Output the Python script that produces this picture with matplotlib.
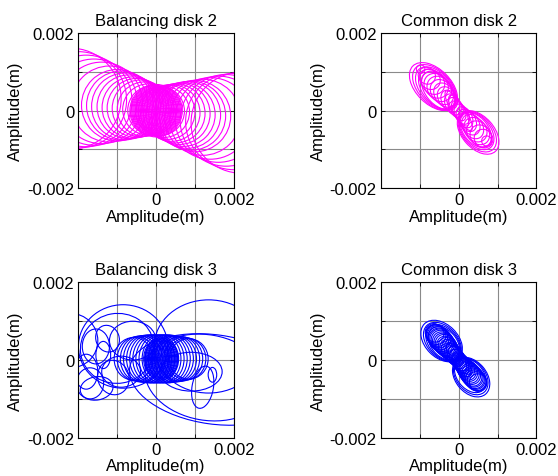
import matplotlib
matplotlib.use("Agg")
import matplotlib.pyplot as plt
from matplotlib.patches import Ellipse

plt.rcParams["font.family"] = ["Liberation Sans", "DejaVu Sans"]
plt.rcParams["font.size"] = 12

MM = 1e-3  # all orbit parameters below are in mm, plotted in m

# ---- Balancing disk 2: near-circular orbits sliding along x, dense core at origin
bd2_core_r = [0.025, 0.05, 0.075, 0.1, 0.125, 0.15, 0.175, 0.2, 0.225, 0.25,
              0.275, 0.3, 0.325, 0.35, 0.375, 0.4, 0.425, 0.45, 0.475, 0.5,
              0.525, 0.55, 0.575, 0.6, 0.625, 0.65, 0.675]
bd2_cx = [-2.2, -2.0, -1.8, -1.6, -1.4, -1.2,
          -1.0, -0.9, -0.8, -0.7, -0.6, -0.5, -0.4, -0.3, -0.2, -0.1,
          0.1, 0.2, 0.3, 0.4, 0.5, 0.6, 0.7, 0.8, 0.9, 1.0,
          1.2, 1.4, 1.6, 1.8, 2.0, 2.2]
bd2_cy = [0.31, 0.28, 0.25, 0.22, 0.20, 0.17,
          0.14, 0.13, 0.11, 0.10, 0.08, 0.07, 0.06, 0.04, 0.03, 0.01,
          -0.01, -0.03, -0.04, -0.06, -0.07, -0.08, -0.10, -0.11, -0.13, -0.14,
          -0.17, -0.20, -0.22, -0.25, -0.28, -0.31]
bd2_r = [1.30, 1.24, 1.18, 1.11, 1.05, 0.98,
         0.92, 0.89, 0.86, 0.82, 0.79, 0.76, 0.73, 0.70, 0.66, 0.63,
         0.63, 0.66, 0.70, 0.73, 0.76, 0.79, 0.82, 0.86, 0.89, 0.92,
         0.98, 1.05, 1.11, 1.18, 1.24, 1.30]

# ---- Common disk 2: tilted elliptical orbits along the diagonal
cd2_cx = [-0.65, -0.62, -0.59, -0.56, -0.53, -0.98,
          -0.82, -0.74, -0.66, -0.58, -0.50, -0.43, -0.36, -0.29, -0.22, -0.15, -0.08,
          0.00, 0.00, 0.00,
          0.08, 0.15, 0.22, 0.29, 0.36, 0.43, 0.50, 0.57, 0.64,
          0.72, 0.50, 0.48, 0.46, 0.44]
cd2_cy = [0.62, 0.60, 0.58, 0.55, 0.52, 1.07,
          0.90, 0.81, 0.72, 0.64, 0.56, 0.48, 0.40, 0.32, 0.24, 0.16, 0.08,
          0.00, 0.00, 0.00,
          -0.09, -0.17, -0.25, -0.33, -0.41, -0.49, -0.57, -0.65, -0.72,
          -0.78, -0.56, -0.54, -0.52, -0.50]
cd2_w = [1.50, 1.40, 1.30, 1.20, 1.10, 0.22,
         0.46, 0.56, 0.64, 0.68, 0.70, 0.70, 0.68, 0.64, 0.62, 0.58, 0.56,
         0.56, 0.90, 1.20,
         0.56, 0.58, 0.62, 0.64, 0.68, 0.68, 0.66, 0.60, 0.50,
         0.26, 1.32, 1.22, 1.12, 1.02]
cd2_h = [0.90, 0.84, 0.78, 0.72, 0.66, 0.22,
         0.42, 0.50, 0.56, 0.58, 0.58, 0.54, 0.50, 0.46, 0.42, 0.38, 0.34,
         0.30, 0.30, 0.32,
         0.34, 0.38, 0.42, 0.46, 0.50, 0.54, 0.54, 0.52, 0.46,
         0.26, 0.82, 0.76, 0.70, 0.64]
cd2_ang = [-45, -47, -48, -50, -52, 0,
           -40, -45, -45, -48, -50, -52, -55, -57, -60, -62, -62,
           -62, -60, -57,
           -62, -62, -60, -57, -55, -52, -50, -48, -45,
           0, -48, -49, -50, -52]

# ---- Balancing disk 3: wandering transient loops around a dense core
bd3_core_cx = [-0.58, -0.50, -0.42, -0.34, -0.26, -0.18, -0.10, -0.02, 0.06, 0.14,
               0.22, 0.30, 0.38, 0.46, 0.54, 0.62, 0.70, 0.78, 0.84]
bd3_core_w = [1.0] * 19
bd3_core_h = [1.10, 1.14, 1.18, 1.20, 1.22, 1.24, 1.24, 1.24, 1.24, 1.24,
              1.24, 1.24, 1.22, 1.20, 1.18, 1.16, 1.12, 1.08, 1.04]
bd3_fill_w = [0.05, 0.1, 0.15, 0.2, 0.25, 0.3, 0.35, 0.4, 0.45, 0.5,
              0.55, 0.6, 0.65, 0.7, 0.75, 0.8, 0.85, 0.9]
bd3_fill_h = [0.06, 0.12, 0.18, 0.24, 0.30, 0.36, 0.42, 0.48, 0.54, 0.60,
              0.66, 0.72, 0.78, 0.84, 0.90, 0.96, 1.02, 1.08]
bd3_loop_cx = [1.35, 1.30, 1.50, -0.85, -1.00, -1.36, -1.53, -1.80, -1.10, 1.45,
               1.20, -2.20, -0.60, 0.90, -1.55, -1.25, -1.70, -0.90]
bd3_loop_cy = [0.35, -0.45, -0.50, 0.35, 0.30, 0.13, -0.73, -0.30, -0.45, -0.38,
               -0.70, 0.50, 0.50, -0.30, 0.35, 0.55, -0.60, -0.30]
bd3_loop_w = [2.80, 3.20, 4.40, 2.30, 1.90, 0.38, 0.85, 0.60, 0.80, 0.22,
              0.55, 1.40, 1.20, 1.60, 0.70, 0.60, 0.70, 1.00]
bd3_loop_h = [2.40, 2.20, 2.30, 2.15, 1.80, 0.70, 0.60, 0.90, 0.90, 0.38,
              1.10, 1.40, 1.00, 1.00, 0.90, 0.70, 0.80, 0.80]
bd3_loop_ang = [0, -10, -8, 0, 10, 0, 10, 0, 20, 0,
                -10, 0, 0, 0, 0, 20, 0, 0]

# ---- Common disk 3: same kind of diagonal orbits, a bit smaller
cd3_cx = [-0.44, -0.42, -0.40, -0.38,
          -0.62, -0.59, -0.56, -0.53, -0.50, -0.47, -0.44, -0.41, -0.38, -0.35,
          -0.32, -0.29, -0.26, -0.23, -0.20, -0.17, -0.14, -0.11, -0.08, -0.03,
          0.00, 0.00, 0.00,
          0.03, 0.05, 0.08, 0.11, 0.14, 0.17, 0.20, 0.23, 0.26, 0.29,
          0.32, 0.35, 0.38, 0.41, 0.44, 0.47, 0.50,
          0.32, 0.31, 0.30]
cd3_cy = [0.49, 0.47, 0.45, 0.43,
          0.70, 0.66, 0.63, 0.60, 0.56, 0.52, 0.49, 0.46, 0.42, 0.39,
          0.36, 0.32, 0.29, 0.25, 0.22, 0.18, 0.15, 0.12, 0.09, 0.03,
          0.00, 0.00, 0.00,
          -0.04, -0.07, -0.10, -0.13, -0.17, -0.20, -0.24, -0.27, -0.31, -0.34,
          -0.38, -0.41, -0.45, -0.48, -0.52, -0.55, -0.58,
          -0.44, -0.42, -0.40]
cd3_w = [1.25, 1.16, 1.07, 0.98,
         0.50, 0.54, 0.58, 0.60, 0.62, 0.64, 0.66, 0.66, 0.66, 0.65,
         0.64, 0.63, 0.62, 0.61, 0.60, 0.58, 0.56, 0.55, 0.54, 0.54,
         0.60, 0.80, 1.00,
         0.54, 0.54, 0.54, 0.55, 0.56, 0.57, 0.58, 0.59, 0.60, 0.61,
         0.62, 0.61, 0.60, 0.58, 0.56, 0.52, 0.46,
         1.15, 1.07, 0.99]
cd3_h = [0.85, 0.78, 0.72, 0.66,
         0.46, 0.50, 0.52, 0.54, 0.56, 0.56, 0.56, 0.55, 0.54, 0.53,
         0.52, 0.50, 0.48, 0.46, 0.44, 0.43, 0.42, 0.41, 0.40, 0.38,
         0.32, 0.36, 0.38,
         0.38, 0.39, 0.40, 0.41, 0.42, 0.44, 0.46, 0.48, 0.50, 0.51,
         0.52, 0.52, 0.52, 0.51, 0.50, 0.48, 0.44,
         0.80, 0.74, 0.68]
cd3_ang = [-45, -47, -48, -50,
           -40, -42, -45, -45, -45, -46, -48, -49, -50, -51,
           -52, -53, -55, -56, -57, -58, -60, -60, -60, -60,
           -60, -58, -56,
           -60, -60, -60, -60, -60, -58, -57, -56, -55, -53,
           -52, -51, -50, -49, -48, -46, -45,
           -50, -50, -51]

titles = ["Balancing disk 2", "Common disk 2", "Balancing disk 3", "Common disk 3"]
positions = [[0.1405, 0.6031, 0.2785, 0.3256],
             [0.6828, 0.6031, 0.2785, 0.3256],
             [0.1405, 0.0803, 0.2785, 0.3256],
             [0.6828, 0.0803, 0.2785, 0.3256]]
MAGENTA = "#ff00ff"
BLUE = "#0000ff"
LW = 0.8


def orbit(ax, cx, cy, w, h, ang, color):
    ax.add_patch(Ellipse((cx * MM, cy * MM), w * MM, h * MM, angle=ang,
                         fill=False, edgecolor=color, lw=LW))


def style(ax, title):
    ax.set_xlim(-0.002, 0.002)
    ax.set_ylim(-0.002, 0.002)
    ticks = [-0.002, -0.001, 0, 0.001, 0.002]
    ax.set_xticks(ticks)
    ax.set_xticklabels(["", "", "0", "", "0.002"])
    ax.set_yticks(ticks)
    ax.set_yticklabels(["-0.002", "", "0", "", "0.002"])
    ax.tick_params(direction="in", top=True, right=True, length=3, width=0.6,
                   labelsize=12, pad=3)
    ax.grid(True, color="#8a8a8a", lw=0.8)
    ax.set_axisbelow(True)
    for s in ax.spines.values():
        s.set_linewidth(0.8)
    ax.set_title(title, fontsize=12, pad=6)
    ax.set_xlabel("Amplitude(m)", fontsize=12, labelpad=1)
    ax.set_ylabel("Amplitude(m)", fontsize=12, labelpad=3)


fig = plt.figure(figsize=(5.58, 4.77), dpi=100)
axes = [fig.add_axes(p) for p in positions]

# Balancing disk 2
ax = axes[0]
for r in bd2_core_r:
    orbit(ax, 0, 0, 2 * r, 2 * r, 0, MAGENTA)
for x, y, r in zip(bd2_cx, bd2_cy, bd2_r):
    orbit(ax, x, y, 2 * r, 2 * r, 0, MAGENTA)

# Common disk 2
ax = axes[1]
for p in zip(cd2_cx, cd2_cy, cd2_w, cd2_h, cd2_ang):
    orbit(ax, *p, MAGENTA)

# Balancing disk 3
ax = axes[2]
for x, w, h in zip(bd3_core_cx, bd3_core_w, bd3_core_h):
    orbit(ax, x, 0.03, w, h, 0, BLUE)
for w, h in zip(bd3_fill_w, bd3_fill_h):
    orbit(ax, 0.13, 0.03, w, h, 0, BLUE)
for p in zip(bd3_loop_cx, bd3_loop_cy, bd3_loop_w, bd3_loop_h, bd3_loop_ang):
    orbit(ax, *p, BLUE)

# Common disk 3
ax = axes[3]
for p in zip(cd3_cx, cd3_cy, cd3_w, cd3_h, cd3_ang):
    orbit(ax, *p, BLUE)

for ax, t in zip(axes, titles):
    style(ax, t)

fig.savefig("out.png", dpi=100)
